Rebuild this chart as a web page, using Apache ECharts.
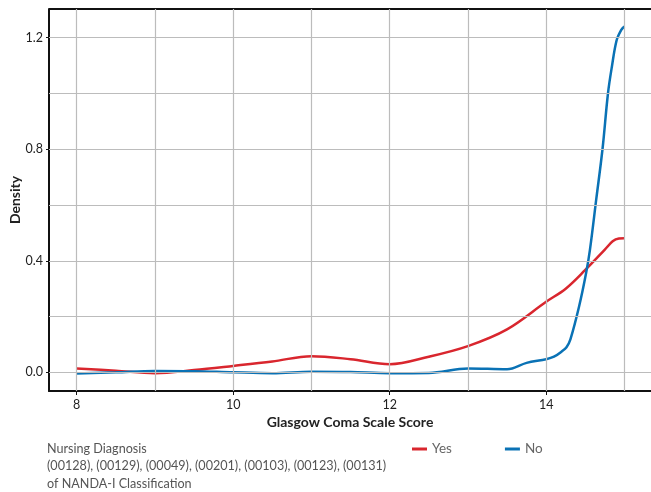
<!DOCTYPE html>
<html>
<head>
<meta charset="utf-8">
<script src="https://cdn.jsdelivr.net/npm/echarts@6/dist/echarts.min.js"></script>
<style>
  html, body { margin: 0; padding: 0; background: #fff; }
  #runChart { width: 651px; height: 492px; }
</style>
</head>
<body>
<div id="runChart"></div>
<script>
// Glasgow Coma Scale score density, by nursing diagnosis (Yes / No)
let seriesNames = ["Yes", "No"];
let yesData = [
  [8, 0.014], [8.5, 0.006], [9, -0.003], [9.5, 0.008], [10, 0.023],
  [10.5, 0.039], [11, 0.058], [11.5, 0.047], [12, 0.029], [12.5, 0.056],
  [13, 0.094], [13.5, 0.154], [14, 0.253], [14.25, 0.3], [14.5, 0.367],
  [14.75, 0.44], [14.85, 0.47], [14.93, 0.48], [15, 0.481]
];
let noData = [
  [8, -0.004], [8.5, 0.0], [9, 0.005], [9.5, 0.004], [10, 0.0],
  [10.5, -0.003], [11, 0.002], [11.5, 0.001], [12, -0.003], [12.5, -0.002],
  [13, 0.014], [13.5, 0.011], [13.75, 0.034], [14, 0.047], [14.1, 0.056],
  [14.2, 0.075], [14.26, 0.09], [14.31, 0.118], [14.42, 0.235], [14.51, 0.355],
  [14.56, 0.44], [14.64, 0.62], [14.72, 0.8], [14.79, 1.0], [14.84, 1.096],
  [14.9, 1.19], [14.96, 1.228], [15, 1.24]
];
let xLabels = [8, 10, 12, 14];
let yLabels = [0, 0.4, 0.8, 1.2];
let xGrid = [8, 9, 10, 11, 12, 13, 14, 15];
let yGrid = [0, 0.2, 0.4, 0.6, 0.8, 1.0, 1.2];

let font = "Lato";
let gridLines = [];
xGrid.forEach(function (v) { gridLines.push({ xAxis: v }); });
yGrid.forEach(function (v) { gridLines.push({ yAxis: v }); });

let option = {
  animation: false,
  textStyle: { fontFamily: font },
  title: {
    text: "Nursing Diagnosis\n(00128), (00129), (00049), (00201), (00103), (00123), (00131)\nof NANDA-I Classification",
    left: 42,
    top: 435,
    textStyle: { fontSize: 12.6, fontWeight: "normal", color: "#555", lineHeight: 17.5, fontFamily: font }
  },
  legend: {
    data: seriesNames,
    left: 407,
    top: 437,
    icon: "rect",
    itemWidth: 15,
    itemHeight: 3,
    itemGap: 53,
    textStyle: { fontSize: 13.5, color: "#666", fontFamily: font }
  },
  grid: { left: 49, right: 0, top: 9, bottom: 101, outerBoundsMode: "none" },
  xAxis: {
    type: "value",
    min: 7.646,
    max: 15.34,
    name: "Glasgow Coma Scale Score",
    nameLocation: "middle",
    nameGap: 24,
    nameTextStyle: { fontSize: 14, fontWeight: "bold", color: "#222" },
    axisLine: { onZero: false, lineStyle: { color: "#111", width: 2 } },
    axisTick: { customValues: xLabels, length: 4, lineStyle: { color: "#111" } },
    axisLabel: { customValues: xLabels, fontSize: 12.5, color: "#222", margin: 7 },
    splitLine: { show: false }
  },
  yAxis: {
    type: "value",
    min: -0.067,
    max: 1.303,
    name: "Density",
    nameLocation: "middle",
    nameGap: 27,
    nameMoveOverlap: false,
    nameTextStyle: { fontSize: 14, fontWeight: "bold", color: "#222" },
    axisLine: { show: true, onZero: false, lineStyle: { color: "#111", width: 2 } },
    axisTick: { show: true, customValues: yLabels, length: 3, lineStyle: { color: "#111" } },
    axisLabel: {
      customValues: yLabels,
      fontSize: 12.5,
      color: "#222",
      margin: 6,
      formatter: function (v) { return v.toFixed(1); }
    },
    splitLine: { show: false }
  },
  graphic: [
    { type: "line", shape: { x1: 49, y1: 9, x2: 651, y2: 9 }, style: { stroke: "#111", lineWidth: 2 } }
  ],
  series: [
    {
      name: "grid",
      type: "line",
      data: [],
      silent: true,
      z: 1,
      markLine: {
        silent: true,
        symbol: "none",
        label: { show: false },
        lineStyle: { color: "#bcbcbc", width: 1.2, type: "solid" },
        emphasis: { disabled: true },
        data: gridLines
      }
    },
    {
      name: "Yes",
      type: "line",
      data: yesData,
      smooth: 0.35,
      showSymbol: false,
      z: 3,
      itemStyle: { color: "#d9262e" },
      lineStyle: { width: 2.5, color: "#d9262e" }
    },
    {
      name: "No",
      type: "line",
      data: noData,
      smooth: 0.35,
      showSymbol: false,
      z: 3,
      itemStyle: { color: "#0a72b5" },
      lineStyle: { width: 2.5, color: "#0a72b5" }
    }
  ]
};

var myChart = echarts.init(document.getElementById("runChart"));
myChart.setOption(option);
</script>
</body>
</html>
